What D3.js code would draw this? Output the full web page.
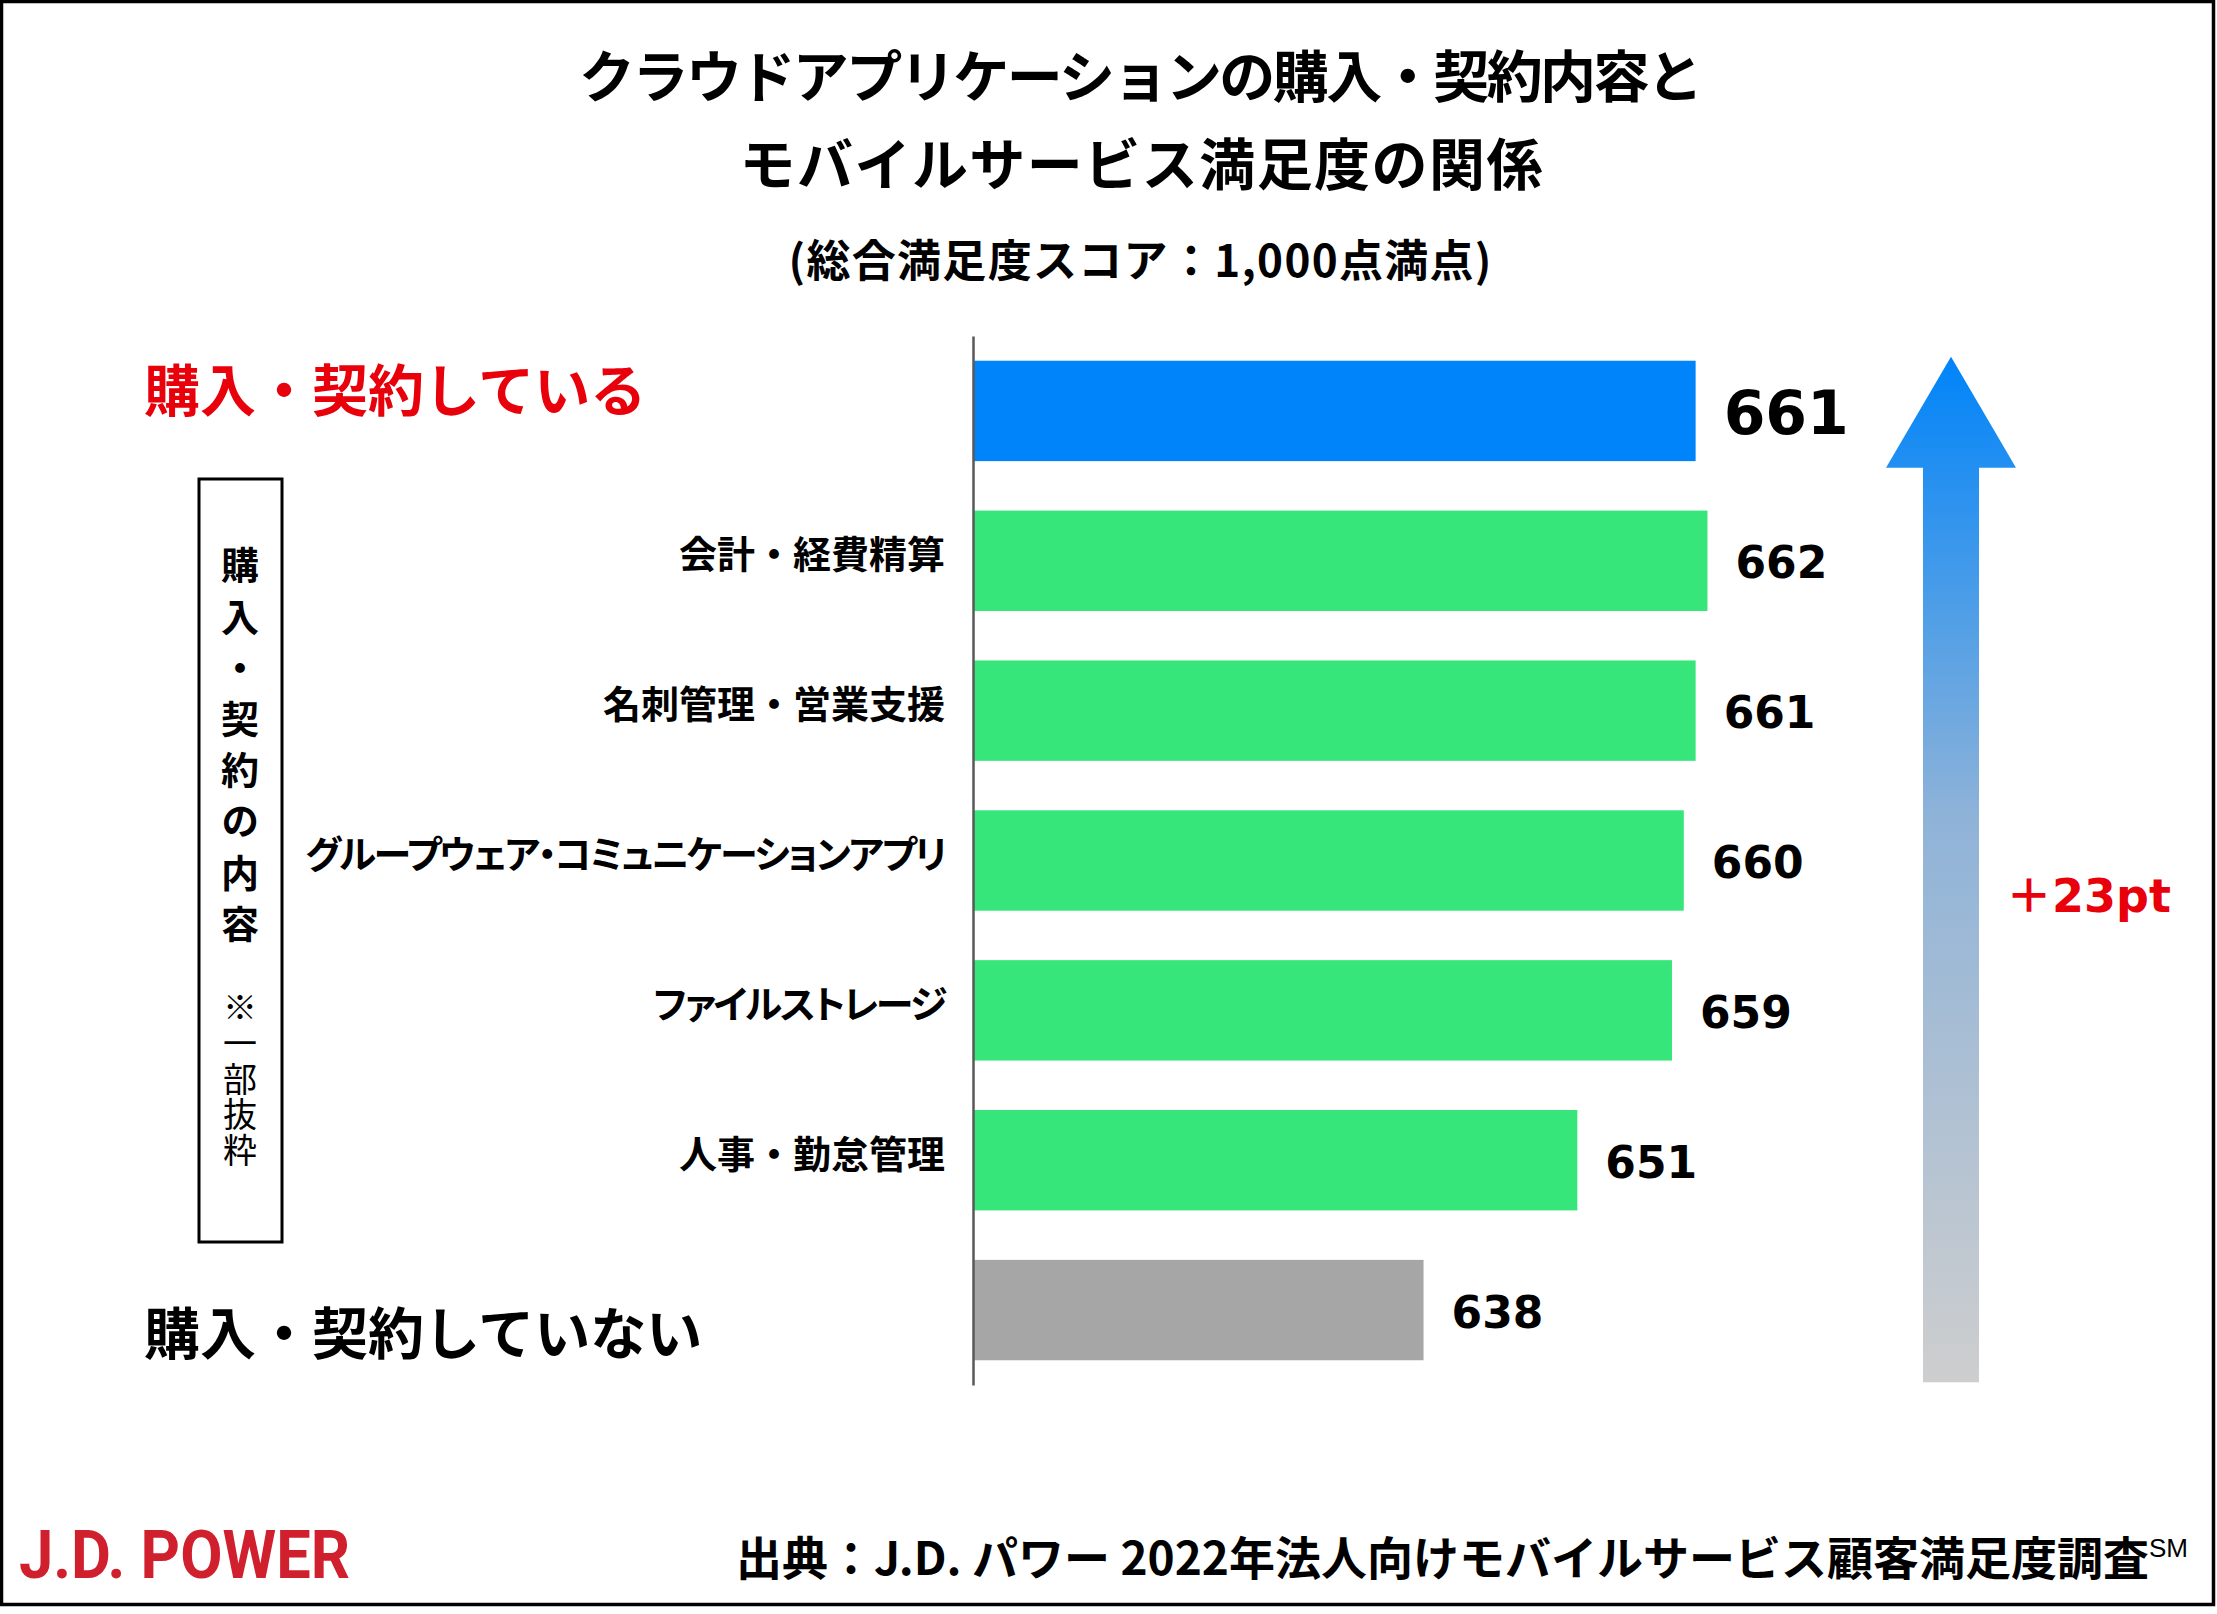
<!DOCTYPE html>
<html>
<head>
<meta charset="utf-8">
<script src="https://cdn.jsdelivr.net/npm/d3@7"></script>
<style>
body { margin: 0; background: #fff; }
svg { display: block; }
</style>
</head>
<body>
<div class="chart"></div>
<script>
// data
const categories = ["購入・契約している", "会計・経費精算", "名刺管理・営業支援", "グループウェア・コミュニケーションアプリ", "ファイルストレージ", "人事・勤怠管理", "購入・契約していない"];
const scores = [661, 662, 661, 660, 659, 651, 638];
const groups = ["total", "item", "item", "item", "item", "item", "none"];
const titleLines = ["クラウドアプリケーションの購入・契約内容と", "モバイルサービス満足度の関係"];
const subtitle = "(総合満足度スコア：1,000点満点)";
const boxLabel = "購入・契約の内容";
const boxNote = "※一部抜粋";
const source = "出典：J.D. パワー 2022年法人向けモバイルサービス顧客満足度調査";
const xDomain = [600, 700];

const width = 2217, height = 1614;
const JP = "'Noto Sans CJK JP', sans-serif";
const NUM = "'DejaVu Sans', 'Noto Sans CJK JP', sans-serif";
const barColor = { total: "#0084F9", item: "#36E67A", none: "#A6A6A6" };
const red = "#E8000B";
const kana = /[\u30A1-\u30FA]/;

const svg = d3.select(".chart")
    .append("svg")
    .attr("width", width)
    .attr("height", height);

// gradient for the arrow
const grad = svg.append("defs").append("linearGradient")
    .attr("id", "arrowGrad")
    .attr("x1", 0).attr("x2", 0).attr("y1", 0).attr("y2", 1);
grad.append("stop").attr("offset", "0%").attr("stop-color", "#0084F9");
grad.append("stop").attr("offset", "45%").attr("stop-color", "#8FB3D8");
grad.append("stop").attr("offset", "100%").attr("stop-color", "#CECECE");

svg.append("rect")
    .attr("x", 1.5).attr("y", 1.5)
    .attr("width", 2212).attr("height", 1603)
    .attr("fill", "#fff")
    .attr("stroke", "#000")
    .attr("stroke-width", 3.5);

// title
svg.append("g").selectAll("text")
    .data(titleLines)
    .enter()
    .append("text")
    .attr("x", 1141)
    .attr("y", (d, i) => 72 + i * 88)
    .attr("text-anchor", "middle")
    .attr("dominant-baseline", "central")
    .attr("font-family", JP)
    .attr("font-weight", 700)
    .attr("font-size", 56)
    .attr("textLength", (d, i) => i === 0 ? 1124 : 803)
    .attr("lengthAdjust", "spacing")
    .text(d => d);

svg.append("text")
    .attr("x", 1140)
    .attr("y", 258)
    .attr("text-anchor", "middle")
    .attr("dominant-baseline", "central")
    .attr("font-family", JP)
    .attr("font-weight", 700)
    .attr("font-size", 44)
    .attr("textLength", 703)
    .attr("lengthAdjust", "spacing")
    .text(subtitle);

const x = d3.scaleLinear()
    .domain(xDomain)
    .range([974, 974 + 1183]);

const y = d3.scaleBand()
    .domain(categories)
    .range([336, 1385])
    .paddingInner(0.33)
    .paddingOuter(0.165);

const data = categories.map((c, i) => ({ cat: c, value: scores[i], group: groups[i] }));

// bars
svg.append("g").selectAll("rect")
    .data(data)
    .enter()
    .append("rect")
    .attr("x", x(xDomain[0]))
    .attr("y", d => y(d.cat))
    .attr("width", d => x(d.value) - x(xDomain[0]))
    .attr("height", y.bandwidth())
    .attr("fill", d => barColor[d.group]);

// axis with item labels only
const gY = svg.append("g")
    .attr("transform", "translate(973,0)")
    .call(d3.axisLeft(y)
        .tickSize(0)
        .tickSizeOuter(0)
        .tickPadding(28)
        .tickFormat((d, i) => groups[i] === "item" ? d : ""));
gY.select(".domain").attr("stroke", "#595959").attr("stroke-width", 2.5);
gY.selectAll("text")
    .attr("dy", -9)
    .attr("dominant-baseline", "central")
    .attr("fill", "#000")
    .style("font-family", JP)
    .style("font-weight", 700)
    .style("font-size", "38px")
    .filter(d => kana.test(d))
    .style("font-feature-settings", "'palt'")
    .style("letter-spacing", "-2.2px");

// value labels
svg.append("g").selectAll("text")
    .data(data)
    .enter()
    .append("text")
    .attr("x", d => x(d.value) + 28)
    .attr("y", d => y(d.cat) + y.bandwidth() / 2 + 2)
    .attr("dominant-baseline", "central")
    .attr("font-family", NUM)
    .attr("font-weight", 700)
    .attr("font-size", d => d.group === "total" ? 60 : 44)
    .text(d => d.value);

// group labels on the left
svg.append("g").selectAll("text")
    .data(data.filter(d => d.group !== "item"))
    .enter()
    .append("text")
    .attr("x", 144)
    .attr("y", d => y(d.cat) + y.bandwidth() / 2 + (d.group === "total" ? -24 : 19))
    .attr("dominant-baseline", "central")
    .attr("font-family", JP)
    .attr("font-weight", 700)
    .attr("font-size", 56)
    .attr("fill", d => d.group === "total" ? red : "#000")
    .text(d => d.cat);

// vertical box label
const box = svg.append("g");
box.append("rect")
    .attr("x", 199).attr("y", 479)
    .attr("width", 83).attr("height", 763)
    .attr("fill", "none")
    .attr("stroke", "#000")
    .attr("stroke-width", 3);
box.append("text")
    .attr("x", 240)
    .attr("y", 546)
    .style("writing-mode", "vertical-rl")
    .style("letter-spacing", "13.2px")
    .attr("font-family", JP)
    .attr("font-weight", 700)
    .attr("font-size", 38)
    .text(boxLabel);
box.append("text")
    .attr("x", 240)
    .attr("y", 990)
    .style("writing-mode", "vertical-rl")
    .style("letter-spacing", "1.8px")
    .attr("font-family", JP)
    .attr("font-weight", 400)
    .attr("font-size", 34)
    .text(boxNote);

// arrow showing the gap
const ax = 1951;
const arrowTop = y(categories[0]) - 4;
const arrowBottom = y(categories[categories.length - 1]) + y.bandwidth() + 22;
const arrow = d3.path();
arrow.moveTo(ax, arrowTop);
arrow.lineTo(ax + 65, arrowTop + 111);
arrow.lineTo(ax + 28, arrowTop + 111);
arrow.lineTo(ax + 28, arrowBottom);
arrow.lineTo(ax - 28, arrowBottom);
arrow.lineTo(ax - 28, arrowTop + 111);
arrow.lineTo(ax - 65, arrowTop + 111);
arrow.closePath();
svg.append("path")
    .attr("d", arrow.toString())
    .attr("fill", "url(#arrowGrad)");

const diff = scores[0] - scores[scores.length - 1];
svg.append("text")
    .attr("x", 2006)
    .attr("y", 896)
    .attr("dominant-baseline", "central")
    .attr("font-family", NUM)
    .attr("font-weight", 700)
    .attr("font-size", 46)
    .attr("fill", red)
    .text(`＋${diff}pt`);

// footer
svg.append("text")
    .attr("x", 19)
    .attr("y", 1578)
    .attr("font-family", "Roboto, sans-serif")
    .attr("font-weight", 700)
    .attr("font-size", 66)
    .attr("fill", "#D0202E")
    .attr("textLength", 331)
    .attr("lengthAdjust", "spacingAndGlyphs")
    .text("J.D. POWER");

const src = svg.append("text")
    .attr("x", 2188)
    .attr("y", 1575)
    .attr("text-anchor", "end")
    .attr("font-family", JP)
    .attr("font-weight", 700)
    .attr("font-size", 46)
    .text(source);
src.append("tspan")
    .attr("dy", -18)
    .attr("font-size", 26)
    .attr("font-family", "'Liberation Sans', sans-serif")
    .attr("font-weight", 400)
    .text("SM");
</script>
</body>
</html>
